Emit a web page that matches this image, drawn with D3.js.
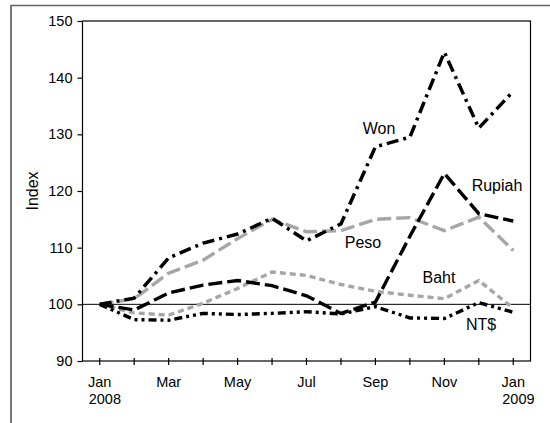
<!DOCTYPE html>
<html>
  <head>
    <script src="https://d3js.org/d3.v7.min.js"></script>
    <style>
      body { margin: 0; background: #fff; }
      text { font-family: "Liberation Sans", Arial, sans-serif; fill: #000; }
      .tick-label { font-size: 14.5px; }
      .series-label { font-size: 16px; }
    </style>
  </head>
  <body>
    <svg width="550" height="423"></svg>
    <script>
      // months from Jan 2008 (0) to Jan 2009 (12)
      const months = d3.range(0, 13);
      const monthLabels = ["Jan", "", "Mar", "", "May", "", "Jul", "", "Sep", "", "Nov", "", "Jan"];
      const yearLabels = {0: "2008", 12: "2009"};
      const yTicks = [90, 100, 110, 120, 130, 140, 150];

      const won    = [100, 101.1, 108.2, 110.8, 112.4, 115.2, 111.2, 114.2, 127.8, 129.5, 144.5, 131.1, 137.6];
      const peso   = [100, 101.0, 105.5, 107.8, 111.6, 115.0, 112.8, 113.0, 115.0, 115.3, 113.0, 115.4, 109.5];
      const rupiah = [100, 99.0, 102.0, 103.4, 104.2, 103.3, 101.5, 98.4, 100.4, 112.0, 123.1, 116.0, 114.7];
      const baht   = [100, 98.5, 98.1, 100.2, 102.8, 105.7, 105.1, 103.5, 102.3, 101.6, 101.0, 104.2, 99.3];
      const ntd    = [100, 97.3, 97.2, 98.4, 98.2, 98.4, 98.7, 98.3, 99.6, 97.6, 97.5, 100.3, 98.6];

      const series = [
        {name: "Baht", values: baht, color: "#a6a6a6", width: 3.4, dash: "6,4"},
        {name: "Peso", values: peso, color: "#a6a6a6", width: 3.4, dash: "14,5"},
        {name: "NT$", values: ntd, color: "#000", width: 3.4, dash: "8,4,3,4,3,4"},
        {name: "Rupiah", values: rupiah, color: "#000", width: 3.4, dash: "14,5"},
        {name: "Won", values: won, color: "#000", width: 3.5, dash: "12,5,3,5"}
      ];

      const labels = [
        {text: "Won", x: 379, y: 134},
        {text: "Rupiah", x: 497, y: 191},
        {text: "Peso", x: 363, y: 248},
        {text: "Baht", x: 439, y: 283},
        {text: "NT$", x: 481, y: 330}
      ];

      const svg = d3.select("svg");
      const plotLeft = 82.5, plotRight = 530.5, plotTop = 21, plotBottom = 361;

      const x = d3.scaleLinear().domain([-0.5, 12.5]).range([plotLeft, plotRight]);
      const y = d3.scaleLinear().domain([90, 150]).range([plotBottom, plotTop]);

      // outer frame (clipped at bottom)
      svg.append("line").attr("x1", 11).attr("x2", 550).attr("y1", 5.5).attr("y2", 5.5)
        .attr("stroke", "#666").attr("stroke-width", 1.6);
      svg.append("line").attr("x1", 11).attr("x2", 11).attr("y1", 5).attr("y2", 423)
        .attr("stroke", "#555").attr("stroke-width", 1.6);

      // plot box
      svg.append("rect")
        .attr("x", plotLeft).attr("y", plotTop)
        .attr("width", plotRight - plotLeft).attr("height", plotBottom - plotTop)
        .attr("fill", "none").attr("stroke", "#000").attr("stroke-width", 1.2);

      // reference line at 100
      svg.append("line")
        .attr("x1", plotLeft).attr("x2", plotRight)
        .attr("y1", y(100)).attr("y2", y(100))
        .attr("stroke", "#000").attr("stroke-width", 1);

      // y axis
      const yAxis = svg.append("g")
        .attr("transform", `translate(${plotLeft},0)`)
        .call(d3.axisLeft(y).tickValues(yTicks).tickSize(5).tickPadding(5));
      yAxis.select(".domain").remove();
      yAxis.selectAll("line").attr("stroke", "#000").attr("stroke-width", 1.2);
      yAxis.selectAll("text").attr("class", "tick-label");
      yAxis.attr("font-size", null).attr("font-family", null);

      // x axis: ticks cross the axis line
      const xAxis = svg.append("g").attr("transform", `translate(0,${plotBottom})`);
      xAxis.selectAll("line").data(months).join("line")
        .attr("x1", d => x(d)).attr("x2", d => x(d))
        .attr("y1", -3).attr("y2", 4)
        .attr("stroke", "#000").attr("stroke-width", 1.2);
      xAxis.selectAll("text.m").data(months.filter(d => monthLabels[d])).join("text")
        .attr("class", "m tick-label")
        .attr("x", d => x(d)).attr("y", 26)
        .attr("text-anchor", "middle")
        .text(d => monthLabels[d]);
      xAxis.selectAll("text.yr").data(Object.keys(yearLabels).map(Number)).join("text")
        .attr("class", "yr tick-label")
        .attr("x", d => x(d) - 11).attr("y", 43)
        .attr("text-anchor", "start")
        .text(d => yearLabels[d]);

      // y title
      svg.append("text")
        .attr("transform", "translate(38,191) rotate(-90)")
        .attr("text-anchor", "middle")
        .attr("font-size", 16)
        .text("Index");

      // lines
      const line = d3.line().x((d, i) => x(i)).y(d => y(d));
      svg.selectAll("path.series").data(series).join("path")
        .attr("class", "series")
        .attr("d", d => line(d.values))
        .attr("fill", "none")
        .attr("stroke", d => d.color)
        .attr("stroke-width", d => d.width)
        .attr("stroke-dasharray", d => d.dash)
        .attr("stroke-linejoin", "miter");

      // series labels
      svg.selectAll("text.series-label").data(labels).join("text")
        .attr("class", "series-label")
        .attr("x", d => d.x).attr("y", d => d.y)
        .attr("text-anchor", "middle")
        .text(d => d.text);
    </script>
  </body>
</html>
